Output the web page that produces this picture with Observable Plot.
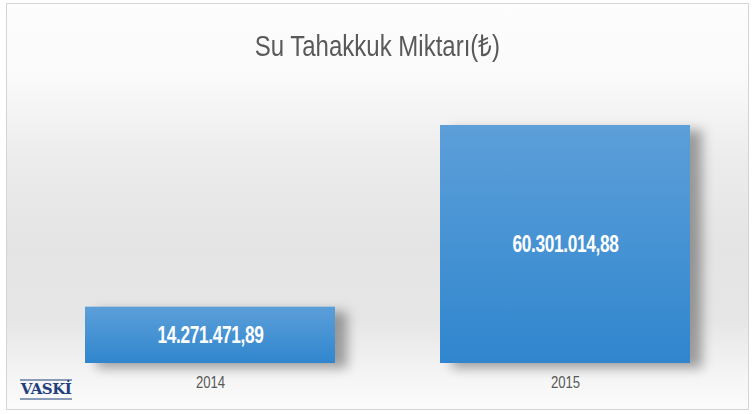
<!DOCTYPE html>
<html>
<head>
<meta charset="utf-8">
<script src="https://cdn.jsdelivr.net/npm/d3@7"></script>
<script src="https://cdn.jsdelivr.net/npm/@observablehq/plot@0.6"></script>
<style>
  html, body { margin: 0; padding: 0; background: #ffffff; }
  #wrap { position: relative; width: 754px; height: 414px; overflow: hidden; background: #ffffff; }
  #frame {
    position: absolute; left: 6px; top: 3px; width: 743px; height: 407px;
    border: 1px solid #d4d4d4; box-sizing: border-box;
    background: linear-gradient(to bottom, #fdfdfd 0%, #fafafa 18%, #ececec 38%, #e4e4e4 60%, #e6e6e6 78%, #f5f5f5 92%, #fbfbfb 100%);
  }
  #title {
    position: absolute; left: 0; top: 0; width: 754px; height: 80px;
    text-align: center; line-height: 92px;
    font-family: "Liberation Sans", sans-serif;
    font-size: 30px; color: #595959;
  }
  #title span { display: inline-block; transform: scaleX(0.8); transform-origin: center; }
  #chart { position: absolute; left: 0; top: 80px; }
  #logo {
    position: absolute; left: 20px; top: 379px; width: 52px; text-align: center;
    font-family: "DejaVu Serif", "Liberation Serif", serif; font-weight: bold;
    font-size: 15px; color: #1f3f7f; letter-spacing: -0.5px;
    border-top: 2px solid #8a9bb8; border-bottom: 2px solid #8a9bb8; line-height: 17px;
  }
</style>
</head>
<body>
<div id="wrap">
  <div id="frame"></div>
  <div id="title"><span>Su Tahakkuk Miktarı(₺)</span></div>
  <div id="chart"></div>
  <div id="logo">VASKİ</div>
</div>
<script>
const years = ["2014", "2015"];
const amounts = [14271471.89, 60301014.88];

const data = years.map((y, i) => ({year: y, amount: amounts[i]}));
const trFormat = d3.formatLocale({decimal: ",", thousands: ".", grouping: [3], currency: ["", " ₺"]}).format(",.2f");

function defs() {
  const ns = "http://www.w3.org/2000/svg";
  const d = document.createElementNS(ns, "defs");
  const g = document.createElementNS(ns, "linearGradient");
  g.setAttribute("id", "barGrad");
  g.setAttribute("x1", "0"); g.setAttribute("y1", "0");
  g.setAttribute("x2", "0"); g.setAttribute("y2", "1");
  [["0%", "#5c9fd9"], ["100%", "#3086ce"]].forEach(([o, c]) => {
    const s = document.createElementNS(ns, "stop");
    s.setAttribute("offset", o); s.setAttribute("stop-color", c);
    g.appendChild(s);
  });
  d.appendChild(g);
  return d;
}

const chart = Plot.plot({
  width: 754,
  height: 334,
  marginTop: 45,
  marginBottom: 51,
  marginLeft: 85,
  marginRight: 64,
  style: {background: "transparent", overflow: "visible"},
  x: {domain: years, paddingInner: 0.296, paddingOuter: 0, label: null, tickSize: 0, tickPadding: 13},
  y: {domain: [0, d3.max(amounts)], axis: null},
  marks: [
    defs,
    Plot.barY(data, {x: "year", y: "amount", fill: "url(#barGrad)"}),
    Plot.text(data, {
      x: "year", y: d => d.amount / 2, text: d => trFormat(d.amount),
      fill: "#ffffff", fontSize: 24, fontWeight: "bold",
      fontFamily: "Liberation Sans, sans-serif"
    })
  ]
});

const svg = chart;
function condense(el, s) {
  const t = el.getAttribute("transform") || "";
  el.setAttribute("transform", (t + ` scale(${s},1)`).trim());
}
const tickGroup = svg.querySelector("g[aria-label='x-axis tick label']");
if (tickGroup) {
  tickGroup.setAttribute("font-family", "Liberation Sans, sans-serif");
  tickGroup.setAttribute("font-size", "16");
  tickGroup.setAttribute("fill", "#595959");
  tickGroup.querySelectorAll("text").forEach(el => condense(el, 0.82));
}
const bars = svg.querySelector("g[aria-label='bar']");
if (bars) bars.style.filter = "drop-shadow(12px 5px 6px rgba(0,0,0,0.35))";
const labels = svg.querySelector("g[aria-label='text']");
if (labels) {
  labels.setAttribute("letter-spacing", "-0.5");
  labels.querySelectorAll("text").forEach(el => condense(el, 0.72));
}

document.getElementById("chart").appendChild(chart);
</script>
</body>
</html>
